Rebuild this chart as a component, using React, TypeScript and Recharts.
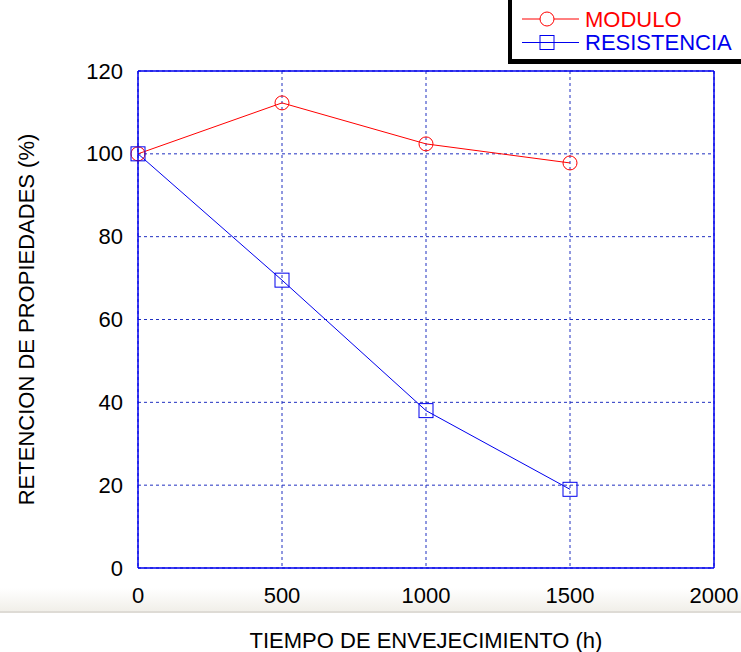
import { LineChart, Line, XAxis, YAxis, CartesianGrid, ReferenceLine, Legend } from "recharts"

// datos
const hours = [0, 500, 1000, 1500]
const modulo = [100, 112.3, 102.4, 97.8]
const resistencia = [100, 69.5, 38.0, 19.0]

const xTicks = [0, 500, 1000, 1500, 2000]
const yMajorTicks = [0, 20, 40, 60, 80, 100, 120]
const yMinorTicks = [0, 5, 10, 15, 20, 25, 30, 35, 40, 45, 50, 55, 60, 65, 70, 75, 80, 85, 90, 95, 100, 105, 110, 115, 120]

const data = hours.map((h, i) => ({ hours: h, modulo: modulo[i], resistencia: resistencia[i] }))

const FONT = "'Liberation Sans', Arial, sans-serif"
const RED = "#ff0000"
const BLUE = "#0000ee"
const GRID = "#2030c0"

const LeftLabelTick = ({ x, y, payload }: any) => (
  <text x={x - 15} y={y} textAnchor="end" dominantBaseline="central" fontSize={22} fontFamily={FONT} fill="#000">
    {payload.value}
  </text>
)

const LeftMinorTick = ({ x, y }: any) => <line x1={x} x2={x + 6} y1={y} y2={y} stroke={BLUE} strokeWidth={1.5} />

const RightMinorTick = ({ x, y }: any) => <line x1={x} x2={x - 6} y1={y} y2={y} stroke={BLUE} strokeWidth={1.5} />

const XLabelTick = ({ x, y, payload }: any) => (
  <text x={x} y={y + 35} textAnchor="middle" fontSize={22} fontFamily={FONT} fill="#000">
    {payload.value}
  </text>
)

const SquareDot = (props: any) => {
  const { cx, cy, index } = props
  return <rect key={`sq-${index}`} x={cx - 7} y={cy - 7} width={14} height={14} fill="none" stroke={BLUE} strokeWidth={1} />
}

const renderLegend = (props: any) => {
  const items = props.payload || []
  return (
    <div style={{ width: 240, height: 62, background: "#fff", border: "1px solid #000", boxShadow: "-3px 4px 0 #000" }}>
      <svg width={240} height={62}>
        {items.map((item: any, i: number) => {
          const cy = 22 + i * 23.5
          const color = item.dataKey === "modulo" ? RED : BLUE
          return (
            <g key={item.dataKey}>
              <line x1={10} x2={67} y1={cy} y2={cy} stroke={color} strokeWidth={1} />
              {item.dataKey === "modulo" ? (
                <circle cx={35} cy={cy} r={7} fill="#fff" stroke={color} />
              ) : (
                <rect x={28} y={cy - 7} width={14} height={14} fill="none" stroke={color} />
              )}
              <text x={73} y={cy} dominantBaseline="central" fontSize={22} fontFamily={FONT} fill={color}>
                {item.value}
              </text>
            </g>
          )
        })}
      </svg>
    </div>
  )
}

export default function App() {
  return (
    <div style={{ position: "absolute", left: 0, top: 0, width: 741, height: 652, background: "#fff", overflow: "hidden" }}>
      <div
        style={{
          position: "absolute",
          left: 0,
          top: 588,
          width: 741,
          height: 23,
          background: "linear-gradient(to bottom, #ffffff, #f1efe9)",
          borderBottom: "2px solid #dedbd5",
        }}
      />
      <div style={{ position: "absolute", left: 0, top: 0 }}>
        <LineChart width={741} height={652} data={data} margin={{ top: 71, right: 0, left: 0, bottom: 54 }}>
          <CartesianGrid yAxisId="left" stroke={GRID} strokeDasharray="3 3" strokeWidth={1} />
          <XAxis
            dataKey="hours"
            type="number"
            domain={[0, 2000]}
            ticks={xTicks}
            height={30}
            axisLine={{ stroke: BLUE, strokeWidth: 1.5 }}
            tickLine={false}
            tickSize={0}
            tickMargin={0}
            tick={<XLabelTick />}
            label={{
              content: (p: any) => {
                const vb = p.viewBox
                return (
                  <text x={vb.x + vb.width / 2} y={vb.y + 80} textAnchor="middle" fontSize={22} fontFamily={FONT} fill="#000">
                    TIEMPO DE ENVEJECIMIENTO (h)
                  </text>
                )
              },
            }}
          />
          <YAxis
            yAxisId="leftMinor"
            orientation="left"
            width={0}
            type="number"
            domain={[0, 120]}
            ticks={yMinorTicks}
            axisLine={false}
            tickLine={false}
            tickSize={0}
            tickMargin={0}
            tick={<LeftMinorTick />}
          />
          <YAxis
            yAxisId="left"
            orientation="left"
            width={138}
            type="number"
            domain={[0, 120]}
            ticks={yMajorTicks}
            axisLine={{ stroke: BLUE, strokeWidth: 1.5 }}
            tickLine={false}
            tickSize={0}
            tickMargin={0}
            tick={<LeftLabelTick />}
            label={{
              content: (p: any) => {
                const vb = p.viewBox
                const cx = 26
                const cy = vb.y + vb.height / 2
                return (
                  <text
                    x={cx}
                    y={cy}
                    transform={`rotate(-90, ${cx}, ${cy})`}
                    textAnchor="middle"
                    dominantBaseline="central"
                    fontSize={22}
                    fontFamily={FONT}
                    fill="#000"
                  >
                    RETENCION DE PROPIEDADES (%)
                  </text>
                )
              },
            }}
          />
          <YAxis
            yAxisId="right"
            orientation="right"
            width={27}
            type="number"
            domain={[0, 120]}
            ticks={yMinorTicks}
            axisLine={{ stroke: BLUE, strokeWidth: 1.5 }}
            tickLine={false}
            tickSize={0}
            tickMargin={0}
            tick={<RightMinorTick />}
          />
          <ReferenceLine yAxisId="left" y={120} stroke={BLUE} strokeWidth={1.5} />
          <Line
            yAxisId="left"
            dataKey="modulo"
            name="MODULO"
            stroke={RED}
            strokeWidth={1}
            dot={{ r: 7, fill: "none", stroke: RED, strokeWidth: 1 }}
            activeDot={false}
            isAnimationActive={false}
          />
          <Line
            yAxisId="left"
            dataKey="resistencia"
            name="RESISTENCIA"
            stroke={BLUE}
            strokeWidth={1}
            dot={<SquareDot />}
            activeDot={false}
            isAnimationActive={false}
          />
          <Legend
            layout="horizontal"
            align="center"
            verticalAlign="middle"
            content={renderLegend}
            wrapperStyle={{ left: 511, top: -4, width: "auto" }}
          />
        </LineChart>
      </div>
    </div>
  )
}
